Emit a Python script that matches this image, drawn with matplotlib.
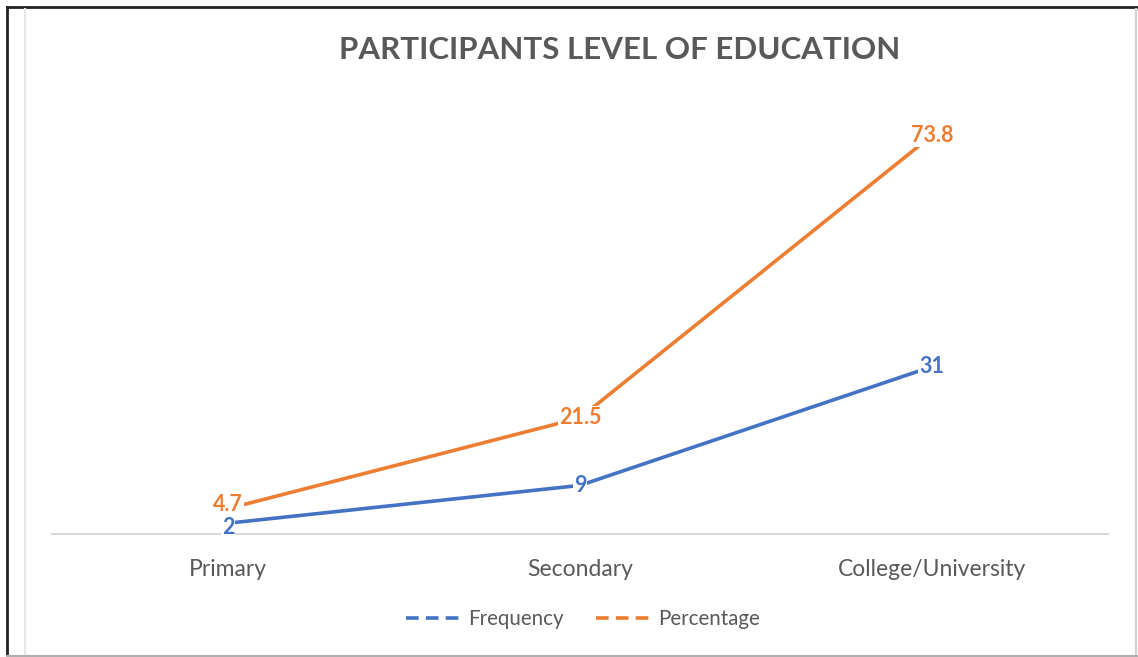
import matplotlib.pyplot as plt
from matplotlib.lines import Line2D

plt.rcParams['font.family'] = ['Lato', 'DejaVu Sans']

# Education level data
levels = ['Primary', 'Secondary', 'College/University']
frequency = [2, 9, 31]
percentage = [4.7, 21.5, 73.8]

blue = '#4472C4'
orange = '#ED7D31'
grey = '#595959'

fig = plt.figure(figsize=(11.38, 6.57), dpi=100)
ax = fig.add_axes([52 / 1138, 123 / 657, 1056 / 1138, 432 / 657])

x = range(len(levels))
ax.plot(x, frequency, color=blue, lw=2.6, solid_capstyle='round', zorder=2)
ax.plot(x, percentage, color=orange, lw=2.6, solid_capstyle='round', zorder=2)

# Value labels sit on the points with a white box behind them;
# the two crowded labels at the first point are nudged apart a little
lift = [3, 0, 0]
for xi, v, dy in zip(x, percentage, lift):
    ax.annotate(f'{v:g}', (xi, v), xytext=(0, dy), textcoords='offset points',
                color=orange, fontsize=15.5, fontweight='bold',
                ha='center', va='center', zorder=4,
                bbox=dict(boxstyle='square,pad=0.05', fc='white', ec='none'))
for xi, v, dy in zip(x, frequency, lift):
    ax.annotate(f'{v:g}', (xi, v), xytext=(0, -dy), textcoords='offset points',
                color=blue, fontsize=15.5, fontweight='bold',
                ha='center', va='center', zorder=5,
                bbox=dict(boxstyle='square,pad=0.05', fc='white', ec='none'))

ax.set_xlim(-0.5, 2.5)
ax.set_ylim(0, 80)
ax.set_xticks(list(x))
ax.set_xticklabels(levels, fontsize=16.5, color=grey)
ax.tick_params(axis='x', length=0, pad=18)
ax.set_yticks([])
for side in ['top', 'right', 'left']:
    ax.spines[side].set_visible(False)
ax.spines['bottom'].set_color('#D9D9D9')
ax.spines['bottom'].set_linewidth(1.5)
ax.spines['bottom'].set_zorder(1)

fig.text(620 / 1138, 1 - 50 / 657, 'PARTICIPANTS LEVEL OF EDUCATION',
         ha='center', va='center', fontsize=22.5, fontweight='bold', color=grey)

handles = [Line2D([], [], color=blue, lw=2.6, ls=(0, (3.5, 2))),
           Line2D([], [], color=orange, lw=2.6, ls=(0, (3.5, 2)))]
fig.legend(handles, ['Frequency', 'Percentage'], loc='center',
           bbox_to_anchor=(583 / 1138, 1 - 619 / 657), ncol=2, frameon=False,
           fontsize=14.8, labelcolor=grey, handlelength=2.8, handletextpad=0.2,
           columnspacing=1.6)

# Outer frame: dark on top and left, light grey elsewhere
W, H = 1138, 657
def frame(xs, ys, color, lw):
    fig.add_artist(Line2D([v / W for v in xs], [1 - v / H for v in ys],
                          color=color, lw=lw, transform=fig.transFigure))

frame([7, 1137], [7, 7], '#222222', 2)
frame([7, 7], [7, 657], '#222222', 2)
frame([25, 25], [9, 657], '#E6E6E6', 1.5)
frame([1136, 1136], [9, 657], '#D0D0D0', 1.5)
frame([7, 1138], [656, 656], '#B0B0B0', 1.5)

fig.savefig('out.png', dpi=100)
